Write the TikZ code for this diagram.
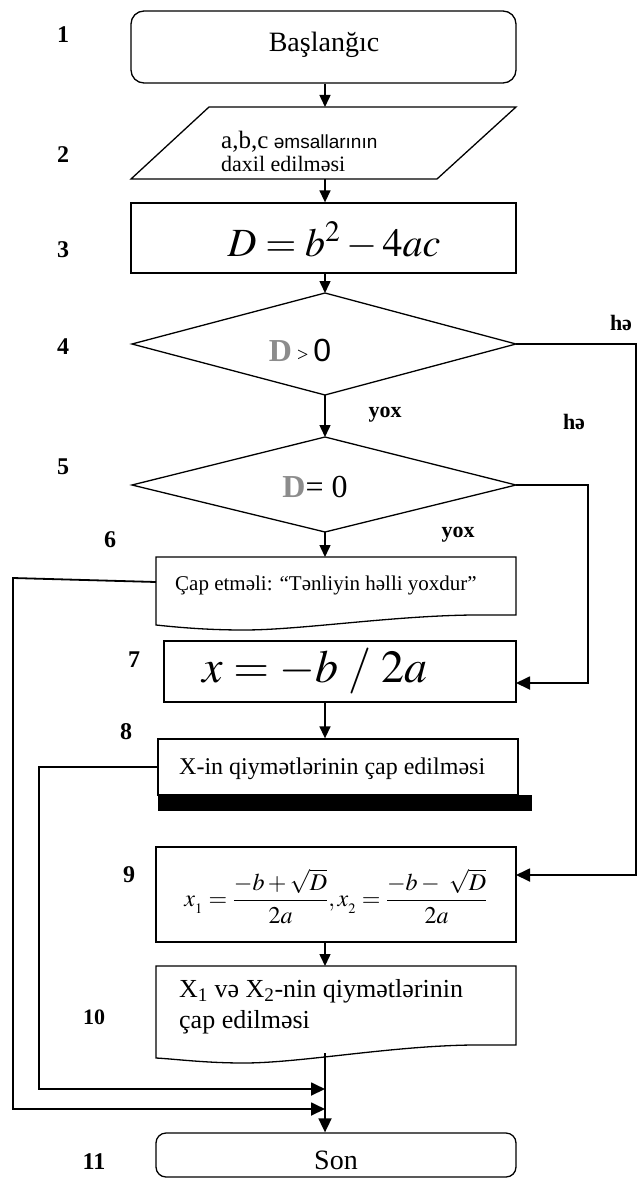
\documentclass[tikz,border=0pt]{standalone}
\usepackage{mathptmx}
\usepackage{fontspec}
\setmainfont{Liberation Serif}
\setsansfont{Liberation Sans}
\usetikzlibrary{arrows.meta}
\begin{document}
\begin{tikzpicture}[x=1pt,y=-1pt,
  shp/.style={draw, line width=1.3pt},
  rbox/.style={shp, inner sep=0pt, anchor=center},
  txt/.style={inner sep=0pt},
  num/.style={font=\bfseries\fontsize{24}{26}\selectfont, inner sep=0pt},
  tag/.style={font=\bfseries\fontsize{22}{24}\selectfont, inner sep=0pt},
  conn/.style={line width=1.8pt},
  arr/.style={conn, -{Triangle[length=14pt,width=13pt]}},
  sarr/.style={line width=1.5pt, -{Triangle[length=12pt,width=11pt]}},
]
\useasboundingbox (0,0) rectangle (638,1180);
\coordinate (ax) at (325,0);

% 1 start
\node[rbox, rounded corners=13pt, minimum width=385pt, minimum height=72pt] (start) at (323.5,47) {};
\node[txt, font=\fontsize{28}{30}\selectfont] (startt) at (324,45) {Başlanğıc};

% 2 input
\coordinate (p1) at (209,107);
\coordinate (p2) at (516,107);
\coordinate (p3) at (437,179);
\coordinate (p4) at (131,179);
\draw[shp] (p1) -- (p2) -- (p3) -- (p4) -- cycle;
\coordinate (intop) at (325,107);
\coordinate (inbot) at (325,179);
\node[txt, anchor=west, align=left, font=\fontsize{22}{23}\selectfont] (intext) at (221,151) {{\fontsize{25}{23}\selectfont a,b,c} {\sffamily\fontsize{19}{23}\selectfont əmsallarının}\\daxil edilməsi};

% 3 calc
\node[rbox, minimum width=385pt, minimum height=70pt] (calc) at (323.5,238) {};
\node[txt, font=\fontsize{40}{44}\selectfont] (calct) at (334,241) {$D = b^2 - 4ac$};

% 4 diamond
\coordinate (d4t) at (325,293);
\coordinate (d4r) at (516,344);
\coordinate (d4b) at (325,395);
\coordinate (d4l) at (132,344);
\draw[shp] (d4t) -- (d4r) -- (d4b) -- (d4l) -- cycle;
\node[txt] (d4text) at (300,350) {{\color[gray]{0.55}\bfseries\fontsize{32}{32}\selectfont D}\hspace{5pt}{\fontsize{20}{22}\selectfont >}\hspace{5pt}{\sffamily\fontsize{32}{32}\selectfont 0}};

% 5 diamond
\coordinate (d5t) at (325,437);
\coordinate (d5r) at (516,485);
\coordinate (d5b) at (325,532);
\coordinate (d5l) at (132,485);
\draw[shp] (d5t) -- (d5r) -- (d5b) -- (d5l) -- cycle;
\node[txt, font=\fontsize{32}{32}\selectfont] (d5text) at (315,487) {{\color[gray]{0.55}\bfseries D}= 0};

% 6 document
\draw[shp] (156,557) -- (516,557) -- (516,615) -- (472,615) .. controls (390,616) and (300,630) .. (244,630) .. controls (205,630) and (175,627) .. (156,625) -- cycle;
\coordinate (b6top) at (325,557);
\coordinate (b6l) at (156,582);
\node[txt, anchor=west, font=\fontsize{21}{23}\selectfont] (b6t) at (175,585) {Çap etməli: “Tənliyin həlli yoxdur”};

% 7
\node[rbox, minimum width=352pt, minimum height=61pt] (b7) at (340,671.5) {};
\node[txt, font=\fontsize{46}{50}\selectfont] (b7t) at (315,671) {$x \mathrel{=} -b\;/\;2a$};

% 8
\node[rbox, minimum width=360pt, minimum height=56pt] (b8) at (338,767) {};
\fill (158,795) rectangle (532,811);
\node[txt, anchor=west, font=\fontsize{24}{26}\selectfont] (b8t) at (179,769) {X-in qiymətlərinin çap edilməsi};

% 9
\node[rbox, minimum width=360pt, minimum height=95pt] (b9) at (336,894.5) {};
\node[txt, font=\fontsize{24}{26}\selectfont] (b9t) at (336,896) {$\displaystyle x_{_1} = \frac{-b+\sqrt{D}}{2a}, x_{_2} = \frac{-b-\ \sqrt{D}}{2a}$};

% 10 document
\draw[shp] (156,966) -- (516,966) -- (516,1045) -- (472,1045) .. controls (390,1046) and (300,1063) .. (244,1063) .. controls (205,1063) and (175,1059) .. (156,1058) -- cycle;
\coordinate (b10top) at (325,966);
\coordinate (b10out) at (325,1053);
\node[txt, anchor=north west, align=left, font=\fontsize{26}{31}\selectfont] (b10t) at (179,979) {X\textsubscript{1} və X\textsubscript{2}-nin qiymətlərinin\\çap edilməsi};

% 11 end
\node[rbox, rounded corners=10pt, minimum width=360pt, minimum height=44pt] (end) at (336,1155) {};
\node[txt, font=\fontsize{28}{30}\selectfont] (endt) at (336,1160) {Son};

% vertical arrows
\draw[sarr] (start.south -| ax) -- (intop);
\draw[sarr] (inbot) -- (calc.north -| ax);
\draw[sarr] (calc.south -| ax) -- (d4t);
\draw[sarr] (d4b) -- (d5t);
\draw[sarr] (d5b) -- (b6top);
\draw[sarr] (b7.south -| ax) -- (b8.north -| ax);
\draw[sarr] (b9.south -| ax) -- (b10top);
\draw[arr] (b10out) -- (end.north -| ax);

% side connectors
\coordinate (r1) at (636,344);
\coordinate (b9in) at (516,875);
\draw[arr] (d4r) -- (r1) |- (b9in);
\coordinate (r2) at (588,485);
\coordinate (b7in) at (516,683);
\draw[arr] (d5r) -- (r2) |- (b7in);
\coordinate (l1) at (13,578);
\coordinate (m2) at (325,1109);
\draw[arr] (b6l) -- (l1) |- (m2);
\coordinate (l2) at (39,767);
\coordinate (m1) at (325,1089);
\draw[arr] (b8.west) -- (l2) |- (m1);

% step numbers
\node[num] (n1) at (63,35) {1};
\node[num] (n2) at (63,155) {2};
\node[num] (n3) at (63,250) {3};
\node[num] (n4) at (63,347) {4};
\node[num] (n5) at (63,467) {5};
\node[num] (n6) at (110,540) {6};
\node[num] (n7) at (134,660) {7};
\node[num] (n8) at (126,732) {8};
\node[num] (n9) at (129,875) {9};
\node[tag] (n10) at (94,1017) {10};
\node[num] (n11) at (94,1162) {11};

% branch labels
\node[tag] (h1) at (621,323) {hə};
\node[tag] (h2) at (574,422) {hə};
\node[tag] (y1) at (385,415) {yox};
\node[tag] (y2) at (458,535) {yox};
\end{tikzpicture}
\end{document}
